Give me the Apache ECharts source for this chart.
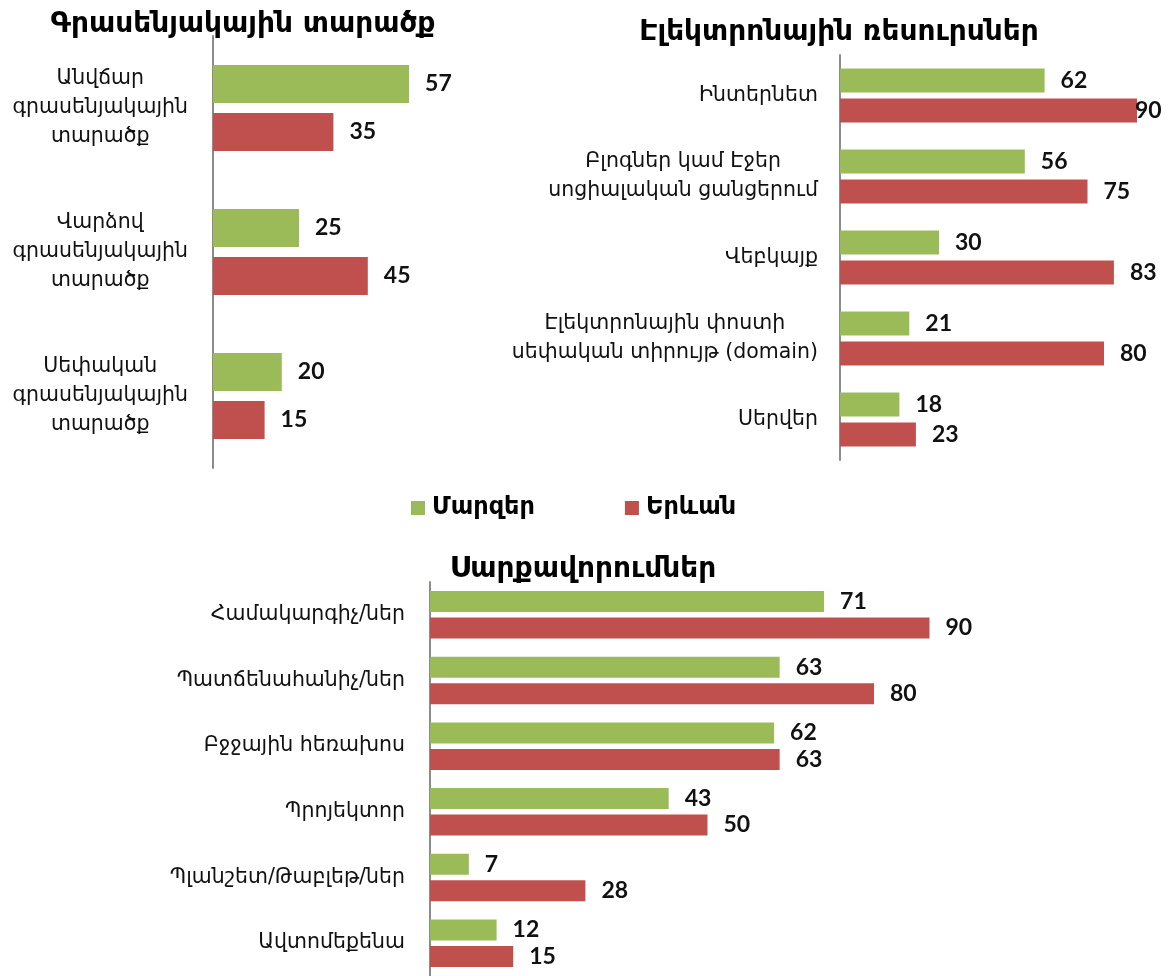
<!DOCTYPE html>
<html>
<head>
<meta charset="utf-8">
<script src="https://cdn.jsdelivr.net/npm/echarts@6/dist/echarts.min.js"></script>
<style>
  html, body { margin: 0; padding: 0; background: #fff; }
  #chart { width: 1174px; height: 976px; }
</style>
</head>
<body>
<div id="chart"></div>
<script>
const seriesNames = ['Մարզեր', 'Երևան'];

const officeTitle = 'Գրասենյակային տարածք';
const officeCats = ['Անվճար\nգրասենյակային\nտարածք', 'Վարձով\nգրասենյակային\nտարածք', 'Սեփական\nգրասենյակային\nտարածք'];
const officeMarz = [57, 25, 20];
const officeYerevan = [35, 45, 15];

const eresTitle = 'Էլեկտրոնային ռեսուրսներ';
const eresCats = ['Ինտերնետ', 'Բլոգներ կամ Էջեր\nսոցիալական ցանցերում', 'Վեբկայք', 'Էլեկտրոնային փոստի\nսեփական տիրույթ (domain)', 'Սերվեր'];
const eresMarz = [62, 56, 30, 21, 18];
const eresYerevan = [90, 75, 83, 80, 23];

const equipTitle = 'Սարքավորումներ';
const equipCats = ['Համակարգիչ/ներ', 'Պատճենահանիչ/ներ', 'Բջջային հեռախոս', 'Պրոյեկտոր', 'Պլանշետ/Թաբլեթ/ներ', 'Ավտոմեքենա'];
const equipMarz = [71, 63, 62, 43, 7, 12];
const equipYerevan = [90, 80, 63, 50, 28, 15];

const GREEN = '#9BBB59';
const RED = '#C0504D';
const ARM = '"DejaVu Sans", sans-serif';
const NUM = 'Lato, "Open Sans", "DejaVu Sans", sans-serif';

let chart = echarts.init(document.getElementById('chart'));

// each line centered inside a right aligned block
function centerLines(v) {
  return v.split('\n').map(s => '{c|' + s + '}').join('\n');
}

function yAx(idx, cats, margin) {
  return {
    type: 'category',
    gridIndex: idx,
    data: cats,
    inverse: true,
    axisTick: { show: false },
    axisLine: { show: true, lineStyle: { color: '#8c8c8c', width: 2 } },
    axisLabel: {
      margin: margin,
      align: 'right',
      formatter: centerLines,
      rich: {
        c: { align: 'center', fontFamily: ARM, fontSize: 20.5, color: '#111', lineHeight: 29 }
      }
    }
  };
}

function xAx(idx) {
  return {
    type: 'value', gridIndex: idx, min: 0, max: 100,
    show: false, splitLine: { show: false }
  };
}

function bar(name, idx, data, color, h, gap, catGap) {
  return {
    name: name,
    type: 'bar',
    xAxisIndex: idx,
    yAxisIndex: idx,
    data: data,
    barWidth: h,
    barGap: gap,
    barCategoryGap: catGap,
    itemStyle: { color: color },
    label: {
      show: true,
      position: 'right',
      distance: 16,
      color: '#111',
      fontFamily: NUM,
      fontWeight: 'bold',
      fontSize: 23
    }
  };
}

let eresRed = eresYerevan.map((v, i) => i === 0 ? { value: v, label: { distance: -2 } } : v);

const titleStyle = { fontFamily: ARM, fontWeight: 'bold', fontSize: 28, color: '#000' };

const option = {
  backgroundColor: '#fff',
  animation: false,
  title: [
    { text: officeTitle, left: 238, top: 6, textAlign: 'center', textStyle: titleStyle },
    { text: eresTitle, left: 834, top: 14, textAlign: 'center', textStyle: titleStyle },
    { text: equipTitle, left: 578, top: 551, textAlign: 'center', textStyle: titleStyle }
  ],
  legend: {
    data: seriesNames,
    left: 406,
    top: 491,
    itemWidth: 14,
    itemHeight: 14,
    itemGap: 90,
    icon: 'rect',
    textStyle: { fontFamily: ARM, fontWeight: 'bold', fontSize: 24, color: '#000', padding: [0, 0, 0, 2] }
  },
  grid: [
    { left: 213, top: 36, width: 344, height: 432 },
    { left: 840, top: 55, width: 330, height: 405 },
    { left: 430, top: 582, width: 555, height: 396 }
  ],
  xAxis: [xAx(0), xAx(1), xAx(2)],
  yAxis: [yAx(0, officeCats, 25), yAx(1, eresCats, 22), yAx(2, equipCats, 25)],
  series: [
    bar(seriesNames[0], 0, officeMarz, GREEN, 38, '26%', '40%'),
    bar(seriesNames[1], 0, officeYerevan, RED, 38, '26%', '40%'),
    bar(seriesNames[0], 1, eresMarz, GREEN, 24, '26%', '33%'),
    bar(seriesNames[1], 1, eresRed, RED, 24, '26%', '33%'),
    bar(seriesNames[0], 2, equipMarz, GREEN, 21, '26%', '29%'),
    bar(seriesNames[1], 2, equipYerevan, RED, 21, '26%', '29%')
  ]
};

chart.setOption(option);
</script>
</body>
</html>
